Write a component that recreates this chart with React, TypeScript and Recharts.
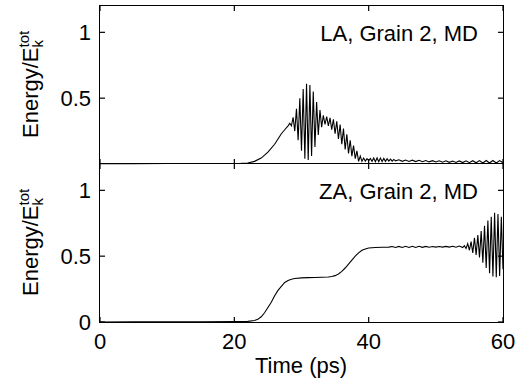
import React from 'react';
import { LineChart, Line, XAxis, YAxis } from 'recharts';

const FONT = '"Liberation Sans", Arial, Helvetica, sans-serif';

// time (ps), energy / E_k^tot
const laSeries: [number, number][] = [
  [0, 0.002], [5, 0.003], [10, 0.004], [15, 0.004], [20, 0.004], [21, 0.005],
  [22, 0.008], [23, 0.02], [24, 0.045], [25, 0.09], [26, 0.15], [26.5, 0.19],
  [27, 0.23], [27.5, 0.26], [28, 0.29],
  [28.25, 0.31], [28.5, 0.29], [28.75, 0.355], [29, 0.25], [29.25, 0.42], [29.5, 0.18],
  [29.75, 0.5], [30, 0.1], [30.25, 0.57], [30.5, 0.04], [30.75, 0.61], [31, 0.03],
  [31.25, 0.6], [31.5, 0.06], [31.75, 0.55], [32, 0.13], [32.25, 0.47], [32.5, 0.22],
  [32.75, 0.41], [33, 0.28], [33.25, 0.37], [33.5, 0.3], [33.75, 0.36], [34, 0.29],
  [34.25, 0.35], [34.5, 0.26], [34.75, 0.34], [35, 0.23], [35.25, 0.325], [35.5, 0.19],
  [35.75, 0.3], [36, 0.15], [36.25, 0.27], [36.5, 0.11], [36.75, 0.225], [37, 0.08],
  [37.25, 0.18], [37.5, 0.06], [37.75, 0.14], [38, 0.04], [38.25, 0.1], [38.5, 0.02],
  [38.75, 0.06], [39, 0.02], [39.25, 0.045], [39.5, 0.022], [39.75, 0.04], [40, 0.025],
  [40.25, 0.042], [40.5, 0.02], [40.75, 0.045], [41, 0.018], [41.25, 0.046], [41.5, 0.017],
  [41.75, 0.045], [42, 0.018], [42.25, 0.042], [42.5, 0.02], [42.75, 0.04], [43, 0.022],
  [43.25, 0.037], [43.5, 0.022], [43.75, 0.035], [44, 0.024],
  [44.5, 0.032], [45, 0.02], [45.5, 0.03], [46, 0.019], [46.5, 0.029], [47, 0.018],
  [47.5, 0.028], [48, 0.017], [48.5, 0.026], [49, 0.016], [49.5, 0.025], [50, 0.015],
  [50.5, 0.024], [51, 0.014], [51.5, 0.024], [52, 0.013], [52.5, 0.023], [53, 0.012],
  [53.5, 0.023], [54, 0.011], [54.5, 0.024], [55, 0.01], [55.5, 0.025], [56, 0.009],
  [56.5, 0.026], [57, 0.008], [57.5, 0.027], [58, 0.008], [58.5, 0.027], [59, 0.008],
  [59.5, 0.026], [60, 0.01],
];

const zaSeries: [number, number][] = [
  [0, 0], [5, 0.001], [10, 0.002], [15, 0.002], [20, 0.003], [21, 0.003],
  [22, 0.005], [23, 0.012], [23.5, 0.02], [24, 0.04], [24.5, 0.07], [25, 0.11],
  [25.5, 0.15], [26, 0.2], [26.5, 0.24], [27, 0.27], [27.5, 0.3], [28, 0.315],
  [28.5, 0.325], [29, 0.33], [30, 0.335], [31, 0.337], [32, 0.338], [33, 0.34],
  [34, 0.342], [34.5, 0.345], [35, 0.352], [35.5, 0.365], [36, 0.385], [36.5, 0.41],
  [37, 0.44], [37.5, 0.47], [38, 0.5], [38.5, 0.525], [39, 0.545], [39.5, 0.555],
  [40, 0.562], [41, 0.566], [42, 0.568], [43, 0.569],
  [43.5, 0.573], [44, 0.566], [44.5, 0.574], [45, 0.566], [45.5, 0.575], [46, 0.566],
  [46.5, 0.575], [47, 0.566], [47.5, 0.575], [48, 0.567], [48.5, 0.574], [49, 0.568],
  [49.5, 0.573], [50, 0.569], [50.5, 0.573], [51, 0.569], [51.5, 0.574], [52, 0.569],
  [52.5, 0.575], [53, 0.568], [53.5, 0.577], [54, 0.565],
  [54.25, 0.58], [54.5, 0.558], [54.75, 0.595], [55, 0.545], [55.25, 0.61], [55.5, 0.525],
  [55.75, 0.64], [56, 0.51], [56.25, 0.66], [56.5, 0.49], [56.75, 0.69], [57, 0.45],
  [57.25, 0.73], [57.5, 0.41], [57.75, 0.77], [58, 0.37], [58.25, 0.8], [58.5, 0.345],
  [58.75, 0.83], [59, 0.34], [59.25, 0.82], [59.5, 0.35], [59.75, 0.8], [60, 0.4],
];

const timeTicks = [0, 20, 40, 60];
const energyTicks = [0, 0.5, 1];
const panelTitles = ['LA, Grain 2, MD', 'ZA, Grain 2, MD'];

const laData = laSeries.map(([t, e]) => ({ t, e }));
const zaData = zaSeries.map(([t, e]) => ({ t, e }));

const PLOT_LEFT = 100;
const PLOT_RIGHT = 503;
const PLOT_H = 158;
const TOP_Y = 6;
const MID_Y = TOP_Y + PLOT_H;
const BOTTOM_Y = MID_Y + PLOT_H;
const TICK_LEN = 5;

// inward tick marks drawn as small boxes (left + right edge) and label
const EnergyTick = (props: any) => {
  const { x, y, payload } = props;
  return (
    <g>
      <rect x={x} y={y - 0.6} width={TICK_LEN} height={1.2} fill="#000" />
      <rect x={PLOT_RIGHT - TICK_LEN} y={y - 0.6} width={TICK_LEN} height={1.2} fill="#000" />
      <text x={x - 9} y={y} dy="0.36em" textAnchor="end" fontSize={22} fontFamily={FONT} fill="#000">
        {payload.value}
      </text>
    </g>
  );
};

// inward tick marks on bottom and top edges + optional label
const TimeTick = (props: any) => {
  const { x, y, payload, plotTop, showLabel } = props;
  return (
    <g>
      <rect x={x - 0.6} y={y - TICK_LEN} width={1.2} height={TICK_LEN} fill="#000" />
      <rect x={x - 0.6} y={plotTop} width={1.2} height={TICK_LEN} fill="#000" />
      {showLabel ? (
        <text x={x} y={y + 11} dy="0.71em" textAnchor="middle" fontSize={22} fontFamily={FONT} fill="#000">
          {payload.value}
        </text>
      ) : null}
    </g>
  );
};

const Panel = ({
  data,
  offset,
  top,
  axisHeight,
  showTime,
  z,
}: {
  data: { t: number; e: number }[];
  offset: number;
  top: number;
  axisHeight: number;
  showTime: boolean;
  z: number;
}) => (
  <div style={{ position: 'absolute', left: 0, top: offset, zIndex: z }}>
    <LineChart
      width={531}
      height={top + PLOT_H + axisHeight}
      data={data}
      margin={{ top, right: 531 - PLOT_RIGHT, bottom: 0, left: 0 }}
    >
      <XAxis
        dataKey="t"
        type="number"
        domain={[0, 60]}
        ticks={timeTicks}
        height={axisHeight}
        tickSize={0}
        tickMargin={0}
        tickLine={false}
        axisLine={false}
        tick={<TimeTick plotTop={top} showLabel={showTime} />}
      />
      <YAxis
        type="number"
        domain={[0, 1.2]}
        ticks={energyTicks}
        width={PLOT_LEFT}
        tickSize={0}
        tickMargin={0}
        tickLine={false}
        axisLine={false}
        tick={<EnergyTick />}
      />
      <Line dataKey="e" type="linear" stroke="#000" strokeWidth={1.1} dot={false} isAnimationActive={false} />
    </LineChart>
  </div>
);

const YLabel = ({ bottom }: { bottom: number }) => (
  <text transform={`translate(38, ${bottom}) rotate(-90)`} fontSize={22} fontFamily={FONT} fill="#000">
    Energy/E
    <tspan fontSize={15} dy={5}>k</tspan>
    <tspan fontSize={15} dx={-7.5} dy={-14}>tot</tspan>
  </text>
);

// panel titles and axis titles
const Annotations = () => (
  <svg
    width={531}
    height={386}
    style={{ position: 'absolute', left: 0, top: 0, zIndex: 2, pointerEvents: 'none' }}
  >
    <YLabel bottom={MID_Y - 26} />
    <YLabel bottom={BOTTOM_Y - 26} />
    <text x={478} y={TOP_Y + 35} textAnchor="end" fontSize={22} fontFamily={FONT} fill="#000">
      {panelTitles[0]}
    </text>
    <text x={478} y={MID_Y + 35} textAnchor="end" fontSize={22} fontFamily={FONT} fill="#000">
      {panelTitles[1]}
    </text>
    <text x={301} y={BOTTOM_Y + 51} textAnchor="middle" fontSize={22} fontFamily={FONT} fill="#000">
      Time (ps)
    </text>
  </svg>
);

// box around both panels and the shared divider
const Frame = () => (
  <>
    <div
      style={{
        position: 'absolute',
        left: PLOT_LEFT - 1,
        top: TOP_Y - 1,
        width: PLOT_RIGHT - PLOT_LEFT,
        height: PLOT_H * 2,
        border: '1px solid #000',
        zIndex: 3,
        pointerEvents: 'none',
      }}
    />
    <div
      style={{
        position: 'absolute',
        left: PLOT_LEFT,
        top: MID_Y - 1,
        width: PLOT_RIGHT - PLOT_LEFT,
        height: 1,
        background: '#000',
        zIndex: 3,
      }}
    />
  </>
);

export default function App() {
  return (
    <div style={{ position: 'absolute', left: 0, top: 0, width: 531, height: 386, background: '#fff' }}>
      <Panel data={zaData} offset={MID_Y - 4} top={4} axisHeight={64} showTime z={0} />
      <Panel data={laData} offset={0} top={TOP_Y} axisHeight={6} showTime={false} z={1} />
      <Annotations />
      <Frame />
    </div>
  );
}
